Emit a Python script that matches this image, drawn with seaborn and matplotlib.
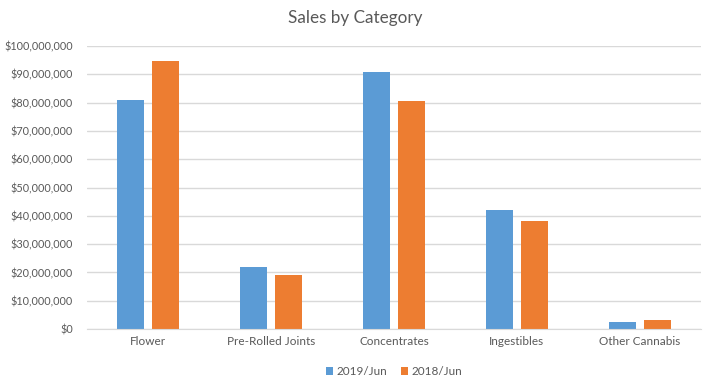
import numpy as np
import pandas as pd
import seaborn as sns
import matplotlib.pyplot as plt
from matplotlib.ticker import FuncFormatter, MultipleLocator

# Data
categories = ['Flower', 'Pre-Rolled Joints', 'Concentrates', 'Ingestibles', 'Other Cannabis']
sales_2019 = [80_900_000, 22_000_000, 90_800_000, 42_100_000, 2_600_000]
sales_2018 = [94_700_000, 19_200_000, 80_600_000, 38_200_000, 3_300_000]
series = ['2019/Jun', '2018/Jun']
colors = ['#5B9BD5', '#ED7D31']

df = pd.DataFrame({
    'category': categories * 2,
    'sales': sales_2019 + sales_2018,
    'period': [series[0]] * 5 + [series[1]] * 5,
})

sns.set_style('white')
plt.rcParams['font.family'] = ['Lato', 'DejaVu Sans']

fig = plt.figure(figsize=(7.11, 3.86), dpi=100)
ax = fig.add_axes([87 / 711, 57 / 386, 614 / 711, 283 / 386])

sns.barplot(data=df, x='category', y='sales', hue='period', hue_order=series,
            palette=colors, width=0.57, gap=0.23, saturation=1, linewidth=0,
            ax=ax)

ax.set_ylim(0, 100_000_000)
ax.set_xlim(-0.5, 4.5)
ax.yaxis.set_major_locator(MultipleLocator(10_000_000))
ax.yaxis.set_major_formatter(FuncFormatter(lambda v, p: f'${v:,.0f}'))
ax.grid(axis='y', color='#D9D9D9', linewidth=1)
ax.set_axisbelow(True)
for s in ['top', 'left', 'right']:
    ax.spines[s].set_visible(False)
ax.spines['bottom'].set_color('#D9D9D9')
ax.tick_params(axis='both', length=0, labelcolor='#595959')
ax.tick_params(axis='x', labelsize=8.5, pad=5)
ax.tick_params(axis='y', labelsize=7.8, pad=10)
ax.set_xlabel('')
ax.set_ylabel('')

fig.text(0.5, 1 - 18.5 / 386, 'Sales by Category', ha='center', va='center',
         fontsize=12.3, color='#595959')

ax.legend(loc='upper center', bbox_to_anchor=(0.5, -0.093), ncol=2, frameon=False,
          fontsize=8.5, labelcolor='#595959', handlelength=0.6, handleheight=0.6,
          handletextpad=0.3, columnspacing=1.2)

fig.savefig('out.png', dpi=100)
